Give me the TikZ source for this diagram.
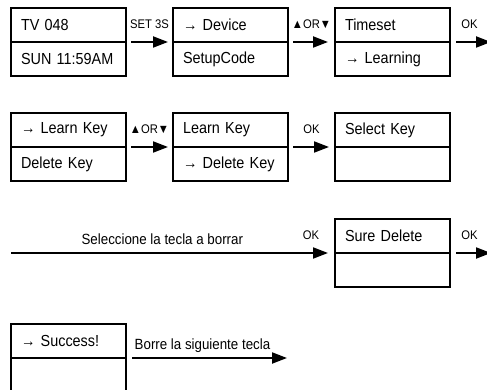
\documentclass[tikz,border=0pt]{standalone}
\usepackage{fontspec}
\setmainfont{Liberation Sans}[FakeStretch=0.9]
\usetikzlibrary{positioning}
\usetikzlibrary{arrows.meta}

\tikzset{
	cell/.style={draw,line width=2.2pt,minimum width=115pt,minimum height=34pt,text width=95pt,
		inner xsep=10pt,inner ysep=0pt,outer sep=0pt,align=left,font=\fontsize{16}{18}\selectfont},
	flow/.style={line width=2pt,-{Triangle[length=15pt,width=11pt]}},
	key/.style={anchor=base,yshift=13.5pt,inner sep=0pt,font=\fontsize{12.5}{14}\selectfont},
	note/.style={anchor=base,yshift=9pt,inner sep=0pt,font=\fontsize{14.8}{16}\selectfont}
}

\begin{document}
\begin{tikzpicture}[x=1pt,y=-1pt]
	\useasboundingbox (0,0) rectangle (487,390);							% поле
	\foreach \n/\x/\y/\a/\b in {tv/11/8/TV 048/SUN 11:59AM,
			dev/173/8/→ Device/SetupCode,
			time/335/8/Timeset/→ Learning,
			learn/11/113/→ Learn Key/Delete Key,
			del/173/113/Learn Key/→ Delete Key,
			sel/335/113/Select Key/,
			sure/335/219/Sure Delete/,
			done/11/324/→ Success!/}
	{
		\node[cell,anchor=north west] (\n) at (\x,\y) {\a};				% верх
		\node[cell,below=0pt of \n] (\n-lo) {\b};						% низ
	}
	\coordinate (out1) at (491,42);
	\coordinate (in3) at (11,253);
	\coordinate (out3) at (491,253);
	\coordinate (out4) at (287,358);
	% ряд 1
	\draw[flow,shorten <=5pt,shorten >=5pt] (tv.south east) -- node[key] {SET 3S} (dev.south west);
	\draw[flow,shorten <=5pt,shorten >=7pt] (dev.south east) -- node[key] {▲OR▼} (time.south west);
	\draw[flow,shorten <=6pt] (time.south east) -- node[key,xshift=-1pt] {OK} (out1);
	% ряд 2
	\draw[flow,shorten <=5pt,shorten >=5pt] (learn.south east) -- node[key] {▲OR▼} (del.south west);
	\draw[flow,shorten <=5pt,shorten >=6pt] (del.south east) -- node[key] {OK} (sel.south west);
	% ряд 3
	\draw[flow,shorten >=7pt] (in3) -- node[note,pos=.467] {Seleccione la tecla a borrar}
		node[key,pos=.926] {OK} (sure.south west);
	\draw[flow,shorten <=6pt] (sure.south east) -- node[key,xshift=-1pt] {OK} (out3);
	% ряд 4
	\draw[flow,shorten <=6pt] (done.south east) -- node[note,pos=.475] {Borre la siguiente tecla} (out4);
\end{tikzpicture}
\end{document}
